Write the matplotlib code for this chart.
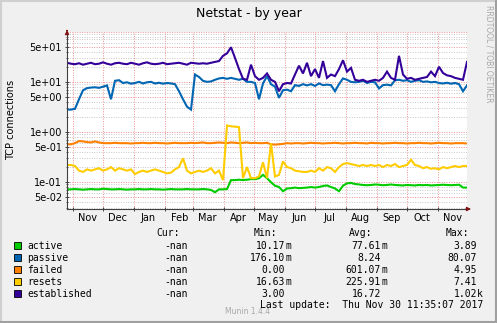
import datetime as dt
import matplotlib
matplotlib.use('Agg')
import matplotlib.pyplot as plt
import matplotlib.dates as mdates
from matplotlib.ticker import FixedLocator, NullFormatter, FuncFormatter
from matplotlib.patches import Rectangle
from matplotlib.lines import Line2D

W, H = 497, 323

# samples every 4 days, 400 days back from the last update
start = dt.datetime(2016, 10, 26, 11, 35)
day_step = 4

active = [0.072, 0.072, 0.073, 0.072, 0.071, 0.072, 0.073, 0.072, 0.072, 0.074,
          0.073, 0.072, 0.072, 0.073, 0.072, 0.071, 0.072, 0.072, 0.073, 0.072,
          0.072, 0.073, 0.072, 0.072, 0.071, 0.072, 0.073, 0.072, 0.072, 0.072,
          0.073, 0.072, 0.072, 0.072, 0.073, 0.072,
          0.07, 0.063, 0.072, 0.072, 0.073, 0.11, 0.11, 0.112, 0.11, 0.112,
          0.115, 0.115, 0.12, 0.14, 0.12, 0.1, 0.085, 0.08, 0.066, 0.075,
          0.076, 0.078, 0.076, 0.077, 0.078, 0.08, 0.078, 0.08, 0.084, 0.086,
          0.08, 0.075, 0.066, 0.085, 0.095, 0.097, 0.092, 0.09, 0.088, 0.087,
          0.088, 0.09, 0.089, 0.087, 0.088, 0.09, 0.088, 0.087, 0.086, 0.088,
          0.087, 0.086, 0.088, 0.087, 0.088, 0.086, 0.087, 0.088, 0.089, 0.088,
          0.087, 0.088, 0.089, 0.078, 0.078]

passive = [2.8, 2.8, 2.9, 4.5, 6.8, 7.5, 7.7, 7.8, 7.6, 8.0,
           8.5, 4.5, 10.5, 10.8, 9.5, 9.8, 9.2, 9.5, 10, 9.3,
           9.8, 10, 9.3, 9.6, 9.2, 9.5, 9.3, 9, 6.5, 4.5,
           3.2, 2.8,
           14, 12.5, 10.5, 10, 10.2, 11, 11.7, 12, 11.5, 12,
           11.5, 11, 11.5, 10, 10, 9.5, 4.5, 9.3, 13, 9,
           8, 4.8, 6.8, 7, 6.5, 8.6, 8.3, 9, 8.5, 9,
           8.3, 9.3, 8.6, 8.8, 8.6, 6.5, 9, 11.7, 11, 10,
           9.8, 10, 10.5, 9.5, 10, 9.8, 7.4, 8.6, 8.8, 8.5,
           10.8, 11, 10.5, 10.8, 10, 10.5, 10.8, 10, 10.2, 9.8,
           10, 9.5, 9.3, 9.6, 9.2, 9.5, 9, 6.5, 8.5]

failed = [0.57, 0.57, 0.6, 0.66, 0.65, 0.63, 0.62, 0.65, 0.62, 0.6,
          0.6, 0.6, 0.61, 0.6, 0.6, 0.6, 0.59, 0.6, 0.6, 0.61,
          0.6, 0.6, 0.61, 0.6, 0.6, 0.59, 0.6, 0.61, 0.6, 0.6,
          0.6, 0.61,
          0.6, 0.61, 0.62, 0.6, 0.6, 0.61, 0.62, 0.61, 0.6, 0.62,
          0.61, 0.6, 0.61, 0.62, 0.6, 0.61, 0.6, 0.6, 0.61,
          0.57, 0.56, 0.57, 0.58, 0.6, 0.59, 0.6, 0.6, 0.59, 0.6,
          0.61, 0.6, 0.6, 0.59, 0.6, 0.6, 0.61, 0.6, 0.59, 0.6,
          0.6, 0.61, 0.6, 0.6, 0.59, 0.61, 0.6, 0.6, 0.59, 0.6,
          0.6, 0.61, 0.6, 0.6, 0.59, 0.6, 0.6, 0.61, 0.6, 0.6,
          0.59, 0.6, 0.61, 0.6, 0.6, 0.59, 0.6, 0.6, 0.6, 0.59]

resets = [0.22, 0.22, 0.21, 0.17, 0.16, 0.18, 0.17, 0.18, 0.19, 0.17,
          0.18, 0.2, 0.17, 0.19, 0.18, 0.17, 0.18, 0.145, 0.16, 0.17,
          0.16, 0.17, 0.18, 0.17, 0.16, 0.15, 0.155, 0.18, 0.2, 0.3,
          0.17, 0.15,
          0.16, 0.17, 0.16, 0.17, 0.19, 0.15, 0.17, 0.11, 1.35, 1.3,
          1.28, 1.25, 0.12, 0.2, 0.12, 0.12, 0.13, 0.25, 0.12, 0.6,
          0.13, 0.14, 0.26, 0.2, 0.19, 0.17, 0.165, 0.16, 0.16, 0.17,
          0.16, 0.19, 0.17, 0.2, 0.19, 0.16, 0.2, 0.23, 0.24, 0.23,
          0.22, 0.21, 0.22, 0.21, 0.22, 0.21, 0.22, 0.2, 0.22, 0.21,
          0.23, 0.2, 0.21, 0.22, 0.28, 0.22, 0.21, 0.19, 0.2, 0.185,
          0.19, 0.18, 0.2, 0.19, 0.2, 0.21, 0.2, 0.21, 0.21]

established = [24, 23, 22.5, 23.5, 22, 23, 24, 22.5, 23, 24.5,
               23, 22, 23.5, 24, 23, 22.5, 24, 23, 22, 23.5,
               24.5, 23, 22.5, 23, 24, 22.5, 23, 23.5, 24, 23,
               22, 24,
               23.5, 23, 23.5, 23, 24, 25, 26, 33, 37, 49,
               30, 18, 11.5, 11, 22, 13, 11, 12, 14.7, 11,
               10, 6.5, 9, 9.5, 9.3, 14, 21, 14.7, 24, 13,
               18, 12, 26, 12, 14, 13, 18, 27, 16, 19,
               11, 10.5, 11, 10, 10.5, 11, 10.5, 12, 16, 12,
               11, 33, 14, 11.5, 12, 11, 11.5, 12, 12.5, 16,
               13, 20, 15, 13.5, 13, 12, 11.5, 11, 25]

names = ['active', 'passive', 'failed', 'resets', 'established']
colors = ['#00CC00', '#0066B3', '#FF8000', '#FFCC00', '#330099']
cur_vals = ['-nan', '-nan', '-nan', '-nan', '-nan']
min_vals = [('10.17', 'm'), ('176.10', 'm'), ('0.00', ''), ('16.63', 'm'), ('3.00', '')]
avg_vals = [('77.61', 'm'), ('8.24', ''), ('601.07', 'm'), ('225.91', 'm'), ('16.72', '')]
max_vals = [('3.89', ''), ('80.07', ''), ('4.95', ''), ('7.41', ''), ('1.02', 'k')]
y_ticks = [5e-2, 1e-1, 5e-1, 1, 5, 10, 50]

series = [active, passive, failed, resets, established]
dates = [start + dt.timedelta(days=day_step * i) for i in range(len(active))]

fig = plt.figure(figsize=(W / 100, H / 100), dpi=100, facecolor='#f0f0f0')
ax = fig.add_axes([67 / W, 1 - 209 / H, 400 / W, 177.3 / H])
ax.set_facecolor('white')
ax.set_yscale('log')
ax.set_ylim(0.0292, 100)
ax.set_xlim(start, start + dt.timedelta(days=400))

# grid: gray minor, red major (1 and 5 per decade, month starts)
for dec in [1e-2, 1e-1, 1, 10]:
    for m in [2, 3, 4, 6, 7, 8, 9]:
        ax.axhline(dec * m, color='#c8c8c8', lw=0.7, ls=(0, (1, 1.5)), zorder=0)
    for m in [1, 5]:
        ax.axhline(dec * m, color='#f09090', lw=0.7, ls=(0, (1, 1.5)), zorder=0)
ax.axhline(100, color='#f09090', lw=0.7, ls=(0, (1, 1.5)), zorder=0)

ax.xaxis.set_major_locator(mdates.MonthLocator())
ax.xaxis.set_major_formatter(NullFormatter())
ax.xaxis.set_minor_locator(mdates.MonthLocator(bymonthday=16))
ax.xaxis.set_minor_formatter(mdates.DateFormatter('%b'))
ax.grid(True, which='major', axis='x', color='#f09090', lw=0.7, ls=(0, (1, 1.5)))
ax.set_axisbelow(True)

ax.yaxis.set_major_locator(FixedLocator(y_ticks))
ax.yaxis.set_major_formatter(FuncFormatter(lambda v, p: '%.0e' % v))
ax.yaxis.set_minor_formatter(NullFormatter())

ax.tick_params(which='major', length=3, width=0.7, direction='inout', color='#404040',
               labelsize=7, pad=2)
ax.tick_params(axis='x', which='minor', length=0, labelsize=7, pad=3)
ax.tick_params(axis='y', which='minor', length=1.5, width=0.6, direction='inout', color='#404040')

for s in ['top', 'right']:
    ax.spines[s].set_visible(False)
for s in ['left', 'bottom']:
    ax.spines[s].set_color('#404040')
    ax.spines[s].set_linewidth(0.8)

# axis arrows
ax.annotate('', xy=(0, 1.025), xytext=(0, 0.99), xycoords='axes fraction',
            arrowprops=dict(arrowstyle='-|>', color='#7f1010', lw=0.8, mutation_scale=6))
ax.annotate('', xy=(1.017, 0), xytext=(0.99, 0), xycoords='axes fraction',
            arrowprops=dict(arrowstyle='-|>', color='#7f1010', lw=0.8, mutation_scale=6))

for vals, c in zip(series, colors):
    ax.plot(dates, vals, color=c, lw=1.5, solid_joinstyle='miter')


def ftext(x, y, s, **kw):
    return fig.text(x / W, 1 - y / H, s, **kw)


ftext(248.5, 14, 'Netstat - by year', ha='center', va='center', fontsize=9)
ftext(11, 120, 'TCP connections', rotation=90, ha='center', va='center', fontsize=7)
ftext(489, 5, 'RRDTOOL / TOBI OETIKER', rotation=270, ha='center', va='top',
      fontsize=5.5, color='#a8a8a8')
ftext(248, 312, 'Munin 1.4.4', ha='center', va='center', fontsize=5.5, color='#a8a8a8')

mono = dict(family='DejaVu Sans Mono', fontsize=7, va='center')
head_y = 233.5
ftext(180, head_y, 'Cur:', ha='right', **mono)
ftext(277, head_y, 'Min:', ha='right', **mono)
ftext(372, head_y, 'Avg:', ha='right', **mono)
ftext(469, head_y, 'Max:', ha='right', **mono)

for i, name in enumerate(names):
    y = 245.7 + 12 * i
    fig.add_artist(Rectangle((13.5 / W, 1 - (y + 3.5) / H), 7 / W, 7 / H,
                             transform=fig.transFigure, facecolor=colors[i],
                             edgecolor='#000000', lw=0.6))
    ftext(27, y, name, ha='left', **mono)
    ftext(188, y, cur_vals[i], ha='right', **mono)
    for (num, unit), xr in zip([min_vals[i], avg_vals[i], max_vals[i]], [285, 381, 477]):
        ftext(xr, y, num, ha='right', **mono)
        if unit:
            ftext(xr, y, unit, ha='left', **mono)

ftext(483, 305, 'Last update:  Thu Nov 30 11:35:07 2017', ha='right', **mono)

# 3d-style frame
fig.add_artist(Line2D([0, 1], [1 - 1 / H, 1 - 1 / H], color='#d0d0d0', lw=1.5))
fig.add_artist(Line2D([1 / W, 1 / W], [0, 1], color='#d0d0d0', lw=1.5))
fig.add_artist(Line2D([0, 1], [1 / H, 1 / H], color='#a0a0a0', lw=1.5))
fig.add_artist(Line2D([1 - 1 / W, 1 - 1 / W], [0, 1], color='#a0a0a0', lw=1.5))

fig.savefig('out.png', dpi=100, facecolor=fig.get_facecolor())
